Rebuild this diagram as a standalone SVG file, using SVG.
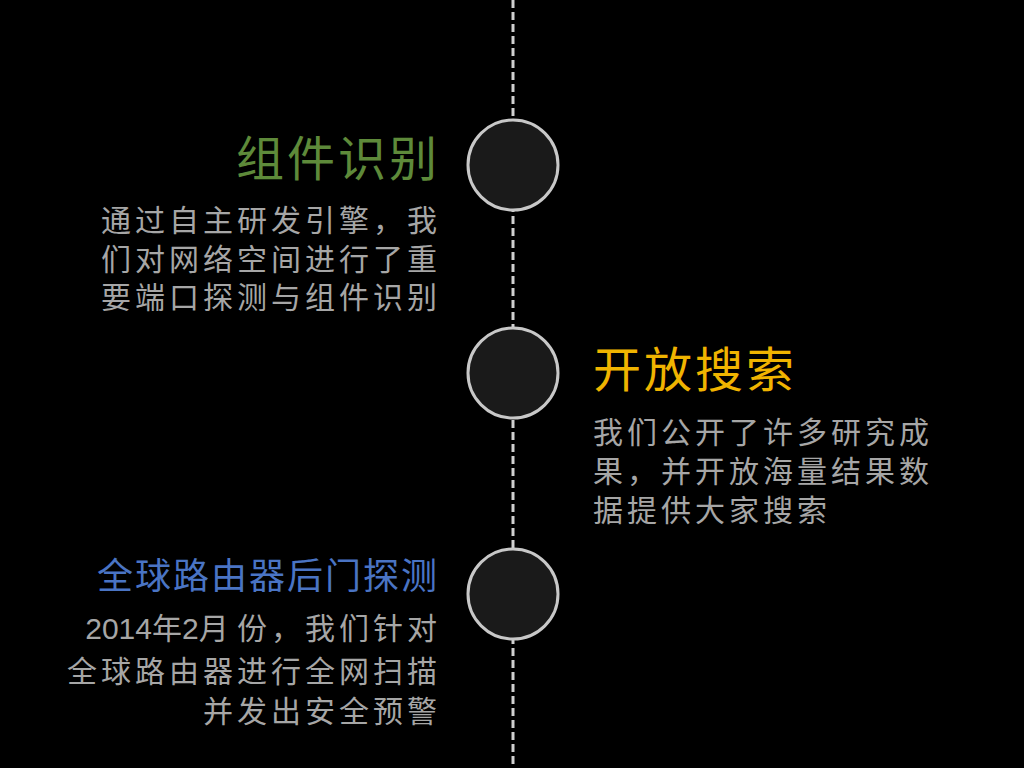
<svg xmlns="http://www.w3.org/2000/svg" width="1024" height="768" viewBox="0 0 1024 768">
<style>
.t{font-family:"Liberation Sans","Noto Sans CJK SC",sans-serif}
.body{font-size:30px;fill:#a6a6a6;letter-spacing:4px}
.r{text-anchor:end}
.c{fill:#1a1a1a;stroke:#c8c8c8;stroke-width:3}
</style>
<rect width="1024" height="768" fill="#000"/>
<g id="connectors">
<line x1="513" y1="0" x2="513" y2="768" stroke="#d0d0d0" stroke-width="3" stroke-dasharray="8,4"/>
</g>
<g id="node1">
<circle class="c" cx="513" cy="165" r="45"/>
<text class="t r" x="440" y="176" font-size="48" fill="#5e8a3a" letter-spacing="3">组件识别</text>
<text class="t body r" x="441" y="231">通过自主研发引擎，我</text>
<text class="t body r" x="441" y="270">们对网络空间进行了重</text>
<text class="t body r" x="441" y="308">要端口探测与组件识别</text>
</g>
<g id="node2">
<circle class="c" cx="513" cy="373" r="45"/>
<text class="t" x="593" y="387" font-size="48" fill="#f0b400" letter-spacing="3">开放搜索</text>
<text class="t body" x="593" y="443">我们公开了许多研究成</text>
<text class="t body" x="593" y="482">果，并开放海量结果数</text>
<text class="t body" x="593" y="521">据提供大家搜索</text>
</g>
<g id="node3">
<circle class="c" cx="513" cy="594" r="45"/>
<text class="t r" x="439" y="589" font-size="36" fill="#4a74c4" letter-spacing="2">全球路由器后门探测</text>
<text class="t body r" x="441" y="639"><tspan letter-spacing="0">2014年2月 </tspan>份，我们针对</text>
<text class="t body r" x="441" y="682">全球路由器进行全网扫描</text>
<text class="t body r" x="441" y="722">并发出安全预警</text>
</g>
</svg>
